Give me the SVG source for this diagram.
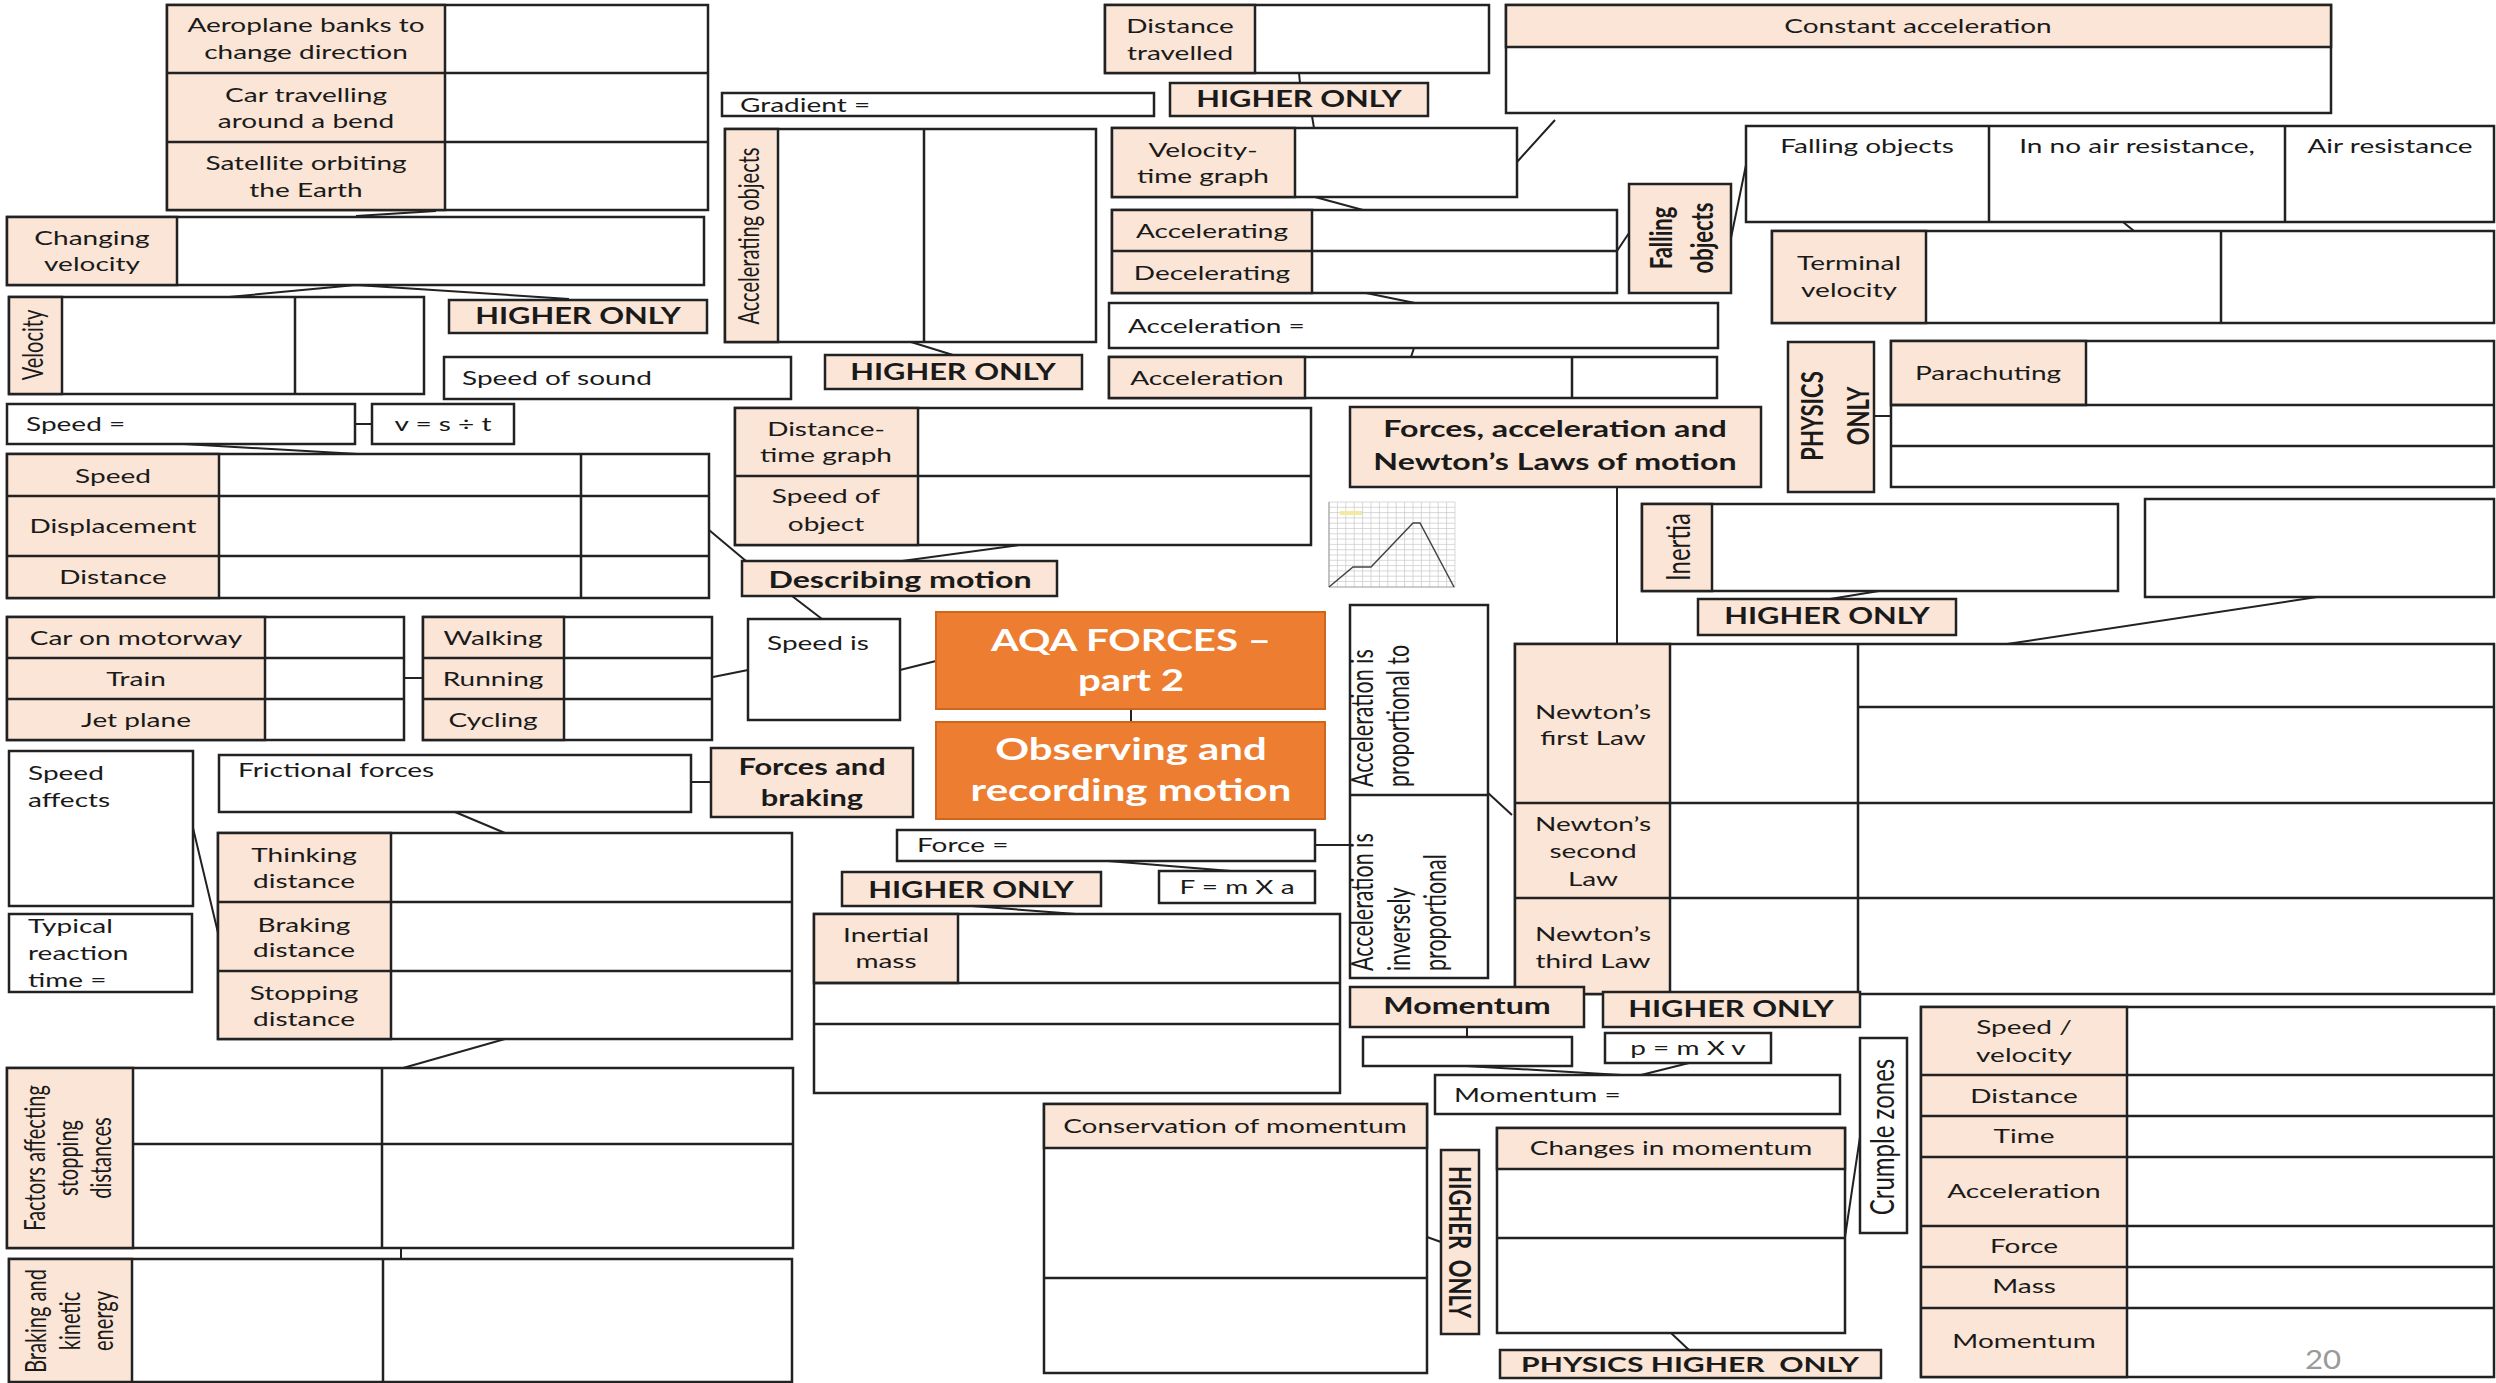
<svg xmlns="http://www.w3.org/2000/svg" width="2496" height="1383" viewBox="0 0 2496 1383">
<style>
.bx{fill:#fff;stroke:#222;stroke-width:2.5}
.pc{fill:#FBE5D6;stroke:#222;stroke-width:2.5}
.ln{stroke:#222;stroke-width:2.5;fill:none}
.cn{stroke:#222;stroke-width:2;fill:none}
.or{fill:#ED7D31;stroke:#D0651C;stroke-width:2}
text{font-family:Lato,"Open Sans","Liberation Sans",sans-serif;font-size:20px;fill:#1a1a1a}
.m{text-anchor:middle}
.b{font-weight:700;font-size:22px}
.w{fill:#fff;font-weight:700;font-size:30px}
.g{stroke:#c8c8c8;stroke-width:0.7;fill:none}
</style>
<g id="connectors">
<path class="cn" d="M436 211L356 216M356 285L218 298M356 285L569 299M355 424H372M184 444L358 454M709 530L746 561M404 678H423M713 677L748 670M900 670L936 661M792 596L822 619M902 561L1019 545M1131 709V722M691 782H711M455 812L505 833M193 828L219 937M505 1039L403 1068M401 1248V1259M911 342L953 355M1299 73L1300 83M1312 116L1314 128M1517 162L1555 120M1315 197L1363 210M1366 293L1415 303M1414 348L1411 357M1617 251L1629 233M1731 238L1746 165M2123 222L2134 231M1874 416H1891M1617 487V644M1879 591L1830 599M2317 597L2007 644M1487 792L1512 815M1315 845H1350M1108 861L1231 871M972 906L1076 914M1467 1027V1037M1466 1066L1638 1076M1689 1063L1637 1076M1427 1237L1441 1242M1845 1237L1860 1137M1671 1333L1689 1350"/>
</g>
<g id="aeroplane">
<rect class="bx" x="167" y="5" width="541" height="205"/>
<rect class="pc" x="167" y="5" width="278" height="205"/>
<path class="ln" d="M167 73H708M167 142H708"/>
<text class="m" transform="translate(306 32) scale(1.4 1)"><tspan x="0">Aeroplane banks to</tspan><tspan x="0" dy="27">change direction</tspan></text>
<text class="m" transform="translate(306 102) scale(1.4 1)"><tspan x="0">Car travelling</tspan><tspan x="0" dy="26">around a bend</tspan></text>
<text class="m" transform="translate(306 170) scale(1.4 1)"><tspan x="0">Satellite orbiting</tspan><tspan x="0" dy="27">the Earth</tspan></text>
</g>
<g id="changing-velocity">
<rect class="bx" x="7" y="217" width="697" height="68"/>
<rect class="pc" x="7" y="217" width="170" height="68"/>
<text class="m" transform="translate(92 245) scale(1.4 1)"><tspan x="0">Changing</tspan><tspan x="0" dy="26">velocity</tspan></text>
</g>
<g id="velocity">
<rect class="bx" x="9" y="297" width="415" height="97"/>
<rect class="pc" x="9" y="297" width="53" height="97"/>
<path class="ln" d="M295 297V394"/>
<text class="m" transform="translate(43 345) scale(1.4 1) rotate(-90)">Velocity</text>
</g>
<g id="higher1">
<rect class="pc" x="449" y="300" width="258" height="33"/>
<text class="m b" transform="translate(578 324) scale(1.4 1)">HIGHER ONLY</text>
</g>
<g id="speed-of-sound">
<rect class="bx" x="444" y="357" width="347" height="42"/>
<text transform="translate(462 385) scale(1.4 1)">Speed of sound</text>
</g>
<g id="speed-eq">
<rect class="bx" x="7" y="404" width="348" height="40"/>
<text transform="translate(26 431) scale(1.4 1)">Speed =</text>
</g>
<g id="vst">
<rect class="bx" x="372" y="404" width="142" height="40"/>
<text class="m" transform="translate(443 431) scale(1.4 1)">v = s ÷ t</text>
</g>
<g id="speed-table">
<rect class="bx" x="7" y="454" width="702" height="144"/>
<rect class="pc" x="7" y="454" width="212" height="144"/>
<path class="ln" d="M7 496H709M7 556H709M581 454V598"/>
<text class="m" transform="translate(113 483) scale(1.4 1)">Speed</text>
<text class="m" transform="translate(113 533) scale(1.4 1)">Displacement</text>
<text class="m" transform="translate(113 584) scale(1.4 1)">Distance</text>
</g>
<g id="car-table">
<rect class="bx" x="7" y="617" width="397" height="123"/>
<rect class="pc" x="7" y="617" width="258" height="123"/>
<path class="ln" d="M7 658H404M7 699H404"/>
<text class="m" transform="translate(136 645) scale(1.4 1)">Car on motorway</text>
<text class="m" transform="translate(136 686) scale(1.4 1)">Train</text>
<text class="m" transform="translate(136 727) scale(1.4 1)">Jet plane</text>
</g>
<g id="walking-table">
<rect class="bx" x="423" y="617" width="289" height="123"/>
<rect class="pc" x="423" y="617" width="141" height="123"/>
<path class="ln" d="M423 658H712M423 699H712"/>
<text class="m" transform="translate(493 645) scale(1.4 1)">Walking</text>
<text class="m" transform="translate(493 686) scale(1.4 1)">Running</text>
<text class="m" transform="translate(493 727) scale(1.4 1)">Cycling</text>
</g>
<g id="dt-table">
<rect class="bx" x="735" y="408" width="576" height="137"/>
<rect class="pc" x="735" y="408" width="183" height="137"/>
<path class="ln" d="M735 476H1311"/>
<text class="m" transform="translate(826 436) scale(1.4 1)"><tspan x="0">Distance-</tspan><tspan x="0" dy="26">time graph</tspan></text>
<text class="m" transform="translate(826 503) scale(1.4 1)"><tspan x="0">Speed of</tspan><tspan x="0" dy="28">object</tspan></text>
</g>
<g id="describing-motion">
<rect class="pc" x="742" y="561" width="315" height="35"/>
<text class="m b" style="font-size:23px" transform="translate(900 588) scale(1.4 1)">Describing motion</text>
</g>
<g id="speed-is">
<rect class="bx" x="748" y="619" width="152" height="101"/>
<text transform="translate(767 650) scale(1.4 1)">Speed is</text>
</g>
<g id="aqa">
<rect class="or" x="936" y="612" width="389" height="97"/>
<text class="m w" transform="translate(1131 651) scale(1.34 1)"><tspan x="0">AQA FORCES –</tspan><tspan x="0" dy="40">part 2</tspan></text>
</g>
<g id="observing">
<rect class="or" x="936" y="722" width="389" height="97"/>
<text class="m w" transform="translate(1131 760) scale(1.4 1)"><tspan x="0">Observing and</tspan><tspan x="0" dy="41">recording motion</tspan></text>
</g>
<g id="forces-braking">
<rect class="pc" x="711" y="748" width="202" height="69"/>
<text class="m b" transform="translate(812 775) scale(1.4 1)"><tspan x="0">Forces and</tspan><tspan x="0" dy="31">braking</tspan></text>
</g>
<g id="frictional">
<rect class="bx" x="219" y="755" width="472" height="57"/>
<text transform="translate(238 777) scale(1.4 1)">Frictional forces</text>
</g>
<g id="speed-affects">
<rect class="bx" x="9" y="751" width="184" height="155"/>
<text transform="translate(28 780) scale(1.4 1)"><tspan x="0">Speed</tspan><tspan x="0" dy="27">affects</tspan></text>
</g>
<g id="reaction">
<rect class="bx" x="9" y="914" width="183" height="78"/>
<text transform="translate(28 933) scale(1.4 1)"><tspan x="0">Typical</tspan><tspan x="0" dy="27">reaction</tspan><tspan x="0" dy="27">time =</tspan></text>
</g>
<g id="thinking-table">
<rect class="bx" x="218" y="833" width="574" height="206"/>
<rect class="pc" x="218" y="833" width="173" height="206"/>
<path class="ln" d="M218 902H792M218 971H792"/>
<text class="m" transform="translate(304 862) scale(1.4 1)"><tspan x="0">Thinking</tspan><tspan x="0" dy="26">distance</tspan></text>
<text class="m" transform="translate(304 932) scale(1.4 1)"><tspan x="0">Braking</tspan><tspan x="0" dy="25">distance</tspan></text>
<text class="m" transform="translate(304 1000) scale(1.4 1)"><tspan x="0">Stopping</tspan><tspan x="0" dy="26">distance</tspan></text>
</g>
<g id="factors">
<rect class="bx" x="7" y="1068" width="786" height="180"/>
<rect class="pc" x="7" y="1068" width="126" height="180"/>
<path class="ln" d="M382 1068V1248M133 1144H793"/>
<text class="m" transform="translate(45 1158) scale(1.4 1) rotate(-90)"><tspan x="0">Factors affecting</tspan><tspan x="0" dy="23.5">stopping</tspan><tspan x="0" dy="23.5">distances</tspan></text>
</g>
<g id="braking-ke">
<rect class="bx" x="9" y="1259" width="783" height="123"/>
<rect class="pc" x="9" y="1259" width="123" height="123"/>
<path class="ln" d="M383 1259V1382"/>
<text class="m" transform="translate(46 1321) scale(1.4 1) rotate(-90)"><tspan x="0">Braking and</tspan><tspan x="0" dy="24">kinetic</tspan><tspan x="0" dy="24">energy</tspan></text>
</g>
<g id="gradient">
<rect class="bx" x="722" y="93" width="432" height="23"/>
<text transform="translate(740 112) scale(1.4 1)">Gradient =</text>
</g>
<g id="accel-objects">
<rect class="bx" x="725" y="129" width="371" height="213"/>
<rect class="pc" x="725" y="129" width="53" height="213"/>
<path class="ln" d="M924 129V342"/>
<text class="m" transform="translate(759 236) scale(1.4 1) rotate(-90)">Accelerating objects</text>
</g>
<g id="higher2">
<rect class="pc" x="825" y="355" width="257" height="34"/>
<text class="m b" transform="translate(953 380) scale(1.4 1)">HIGHER ONLY</text>
</g>
<g id="distance-travelled">
<rect class="bx" x="1105" y="5" width="384" height="68"/>
<rect class="pc" x="1105" y="5" width="150" height="68"/>
<text class="m" transform="translate(1180 33) scale(1.4 1)"><tspan x="0">Distance</tspan><tspan x="0" dy="27">travelled</tspan></text>
</g>
<g id="higher3">
<rect class="pc" x="1170" y="83" width="258" height="33"/>
<text class="m b" transform="translate(1299 107) scale(1.4 1)">HIGHER ONLY</text>
</g>
<g id="vt-graph">
<rect class="bx" x="1112" y="128" width="405" height="69"/>
<rect class="pc" x="1112" y="128" width="183" height="69"/>
<text class="m" transform="translate(1203 157) scale(1.4 1)"><tspan x="0">Velocity-</tspan><tspan x="0" dy="26">time graph</tspan></text>
</g>
<g id="accelerating">
<rect class="bx" x="1112" y="210" width="505" height="83"/>
<rect class="pc" x="1112" y="210" width="200" height="83"/>
<path class="ln" d="M1112 251H1617"/>
<text class="m" transform="translate(1212 238) scale(1.4 1)">Accelerating</text>
<text class="m" transform="translate(1212 280) scale(1.4 1)">Decelerating</text>
</g>
<g id="acceleration-eq">
<rect class="bx" x="1109" y="303" width="609" height="45"/>
<text transform="translate(1128 333) scale(1.4 1)">Acceleration =</text>
</g>
<g id="acceleration-table">
<rect class="bx" x="1109" y="357" width="608" height="41"/>
<rect class="pc" x="1109" y="357" width="196" height="41"/>
<path class="ln" d="M1572 357V398"/>
<text class="m" transform="translate(1207 385) scale(1.4 1)">Acceleration</text>
</g>
<g id="constant-acceleration">
<rect class="bx" x="1506" y="5" width="825" height="108"/>
<rect class="pc" x="1506" y="5" width="825" height="42"/>
<text class="m" transform="translate(1918 33) scale(1.4 1)">Constant acceleration</text>
</g>
<g id="falling-objects">
<rect class="pc" x="1629" y="184" width="102" height="109"/>
<text class="m b" transform="translate(1672 238) scale(1.4 1) rotate(-90)"><tspan x="0">Falling</tspan><tspan x="0" dy="29">objects</tspan></text>
</g>
<g id="falling-table">
<rect class="bx" x="1746" y="126" width="748" height="96"/>
<path class="ln" d="M1989 126V222M2285 126V222"/>
<text class="m" transform="translate(1867 153) scale(1.4 1)">Falling objects</text>
<text class="m" transform="translate(2137 153) scale(1.4 1)">In no air resistance,</text>
<text class="m" transform="translate(2390 153) scale(1.4 1)">Air resistance</text>
</g>
<g id="terminal">
<rect class="bx" x="1772" y="231" width="722" height="92"/>
<rect class="pc" x="1772" y="231" width="154" height="92"/>
<path class="ln" d="M2221 231V323"/>
<text class="m" transform="translate(1849 270) scale(1.4 1)"><tspan x="0">Terminal</tspan><tspan x="0" dy="27">velocity</tspan></text>
</g>
<g id="forces-newton">
<rect class="pc" x="1350" y="407" width="411" height="80"/>
<text class="m b" style="font-size:23px" transform="translate(1555 437) scale(1.4 1)"><tspan x="0">Forces, acceleration and</tspan><tspan x="0" dy="33">Newton’s Laws of motion</tspan></text>
</g>
<g id="physics-only">
<rect class="pc" x="1788" y="342" width="86" height="150"/>
<text class="m b" transform="translate(1823 416) scale(1.4 1) rotate(-90)"><tspan x="0">PHYSICS</tspan><tspan x="0" dy="33">ONLY</tspan></text>
</g>
<g id="parachuting">
<rect class="bx" x="1891" y="341" width="603" height="146"/>
<rect class="pc" x="1891" y="341" width="195" height="64"/>
<path class="ln" d="M1891 405H2494M1891 446H2494"/>
<text class="m" transform="translate(1988 380) scale(1.4 1)">Parachuting</text>
</g>
<g id="graph">
<rect x="1323" y="498" width="137" height="95" fill="#fff"/>
<path class="g" d="M1329 502V587M1337.4 502V587M1345.8 502V587M1354.2 502V587M1362.6 502V587M1371 502V587M1379.4 502V587M1387.8 502V587M1396.2 502V587M1404.6 502V587M1413 502V587M1421.4 502V587M1429.8 502V587M1438.2 502V587M1446.6 502V587M1455 502V587M1329 502H1455M1329 507.3H1455M1329 512.6H1455M1329 517.9H1455M1329 523.2H1455M1329 528.5H1455M1329 533.8H1455M1329 539.1H1455M1329 544.4H1455M1329 549.7H1455M1329 555H1455M1329 560.3H1455M1329 565.6H1455M1329 570.9H1455M1329 576.2H1455M1329 581.5H1455"/>
<path d="M1329 502V587H1455" stroke="#999" stroke-width="1" fill="none"/>
<rect x="1340" y="511" width="22" height="4" fill="#f2eaa0"/>
<polyline points="1329,587 1353,567 1371,567 1413,523 1420,523 1454,587" fill="none" stroke="#444" stroke-width="1.5"/>
</g>
<g id="inertia">
<rect class="bx" x="1642" y="504" width="476" height="87"/>
<rect class="pc" x="1642" y="504" width="70" height="87"/>
<text class="m" style="font-size:24px" transform="translate(1690 547) scale(1.4 1) rotate(-90)">Inertia</text>
</g>
<g id="higher4">
<rect class="pc" x="1698" y="599" width="258" height="36"/>
<text class="m b" transform="translate(1827 624) scale(1.4 1)">HIGHER ONLY</text>
</g>
<g id="inertia-right">
<rect class="bx" x="2145" y="499" width="349" height="98"/>
</g>
<g id="newton-table">
<rect class="bx" x="1515" y="644" width="979" height="350"/>
<rect class="pc" x="1515" y="644" width="155" height="350"/>
<path class="ln" d="M1858 644V994M1515 803H2494M1515 898H2494M1858 707H2494"/>
<text class="m" transform="translate(1593 719) scale(1.4 1)"><tspan x="0">Newton’s</tspan><tspan x="0" dy="26">first Law</tspan></text>
<text class="m" transform="translate(1593 831) scale(1.4 1)"><tspan x="0">Newton’s</tspan><tspan x="0" dy="27">second</tspan><tspan x="0" dy="28">Law</tspan></text>
<text class="m" transform="translate(1593 941) scale(1.4 1)"><tspan x="0">Newton’s</tspan><tspan x="0" dy="27">third Law</tspan></text>
</g>
<g id="accel-proportional">
<rect class="bx" x="1350" y="605" width="138" height="373"/>
<path class="ln" d="M1350 795H1488"/>
<text style="font-size:21.5px" transform="translate(1373 787) scale(1.4 1) rotate(-90)"><tspan x="0">Acceleration is</tspan><tspan x="0" dy="26">proportional to</tspan></text>
<text style="font-size:21.5px" transform="translate(1373 971) scale(1.4 1) rotate(-90)"><tspan x="0">Acceleration is</tspan><tspan x="0" dy="26.5">inversely</tspan><tspan x="0" dy="26">proportional</tspan></text>
</g>
<g id="force-eq">
<rect class="bx" x="897" y="830" width="418" height="31"/>
<text transform="translate(917 852) scale(1.4 1)">Force =</text>
</g>
<g id="fma">
<rect class="bx" x="1159" y="871" width="156" height="32"/>
<text class="m" transform="translate(1237 894) scale(1.4 1)">F = m X a</text>
</g>
<g id="higher5">
<rect class="pc" x="842" y="872" width="259" height="34"/>
<text class="m b" transform="translate(971 898) scale(1.4 1)">HIGHER ONLY</text>
</g>
<g id="inertial-mass">
<rect class="bx" x="814" y="914" width="526" height="179"/>
<rect class="pc" x="814" y="914" width="144" height="69"/>
<path class="ln" d="M814 983H1340M814 1024H1340"/>
<text class="m" transform="translate(886 942) scale(1.4 1)"><tspan x="0">Inertial</tspan><tspan x="0" dy="26">mass</tspan></text>
</g>
<g id="momentum">
<rect class="pc" x="1350" y="987" width="234" height="40"/>
<text class="m b" style="font-size:23px" transform="translate(1467 1014) scale(1.4 1)">Momentum</text>
</g>
<g id="higher6">
<rect class="pc" x="1603" y="992" width="257" height="35"/>
<text class="m b" transform="translate(1731 1017) scale(1.4 1)">HIGHER ONLY</text>
</g>
<g id="momentum-blank">
<rect class="bx" x="1363" y="1037" width="209" height="29"/>
</g>
<g id="pmv">
<rect class="bx" x="1605" y="1033" width="166" height="30"/>
<text class="m" transform="translate(1688 1055) scale(1.4 1)">p = m X v</text>
</g>
<g id="momentum-eq">
<rect class="bx" x="1435" y="1075" width="405" height="39"/>
<text transform="translate(1454 1102) scale(1.4 1)">Momentum =</text>
</g>
<g id="conservation">
<rect class="bx" x="1044" y="1104" width="383" height="269"/>
<rect class="pc" x="1044" y="1104" width="383" height="44"/>
<path class="ln" d="M1044 1278H1427"/>
<text class="m" transform="translate(1235 1133) scale(1.4 1)">Conservation of momentum</text>
</g>
<g id="higher-vertical">
<rect class="pc" x="1441" y="1150" width="38" height="184"/>
<text class="m b" style="white-space:pre" transform="translate(1449 1242) scale(1.4 1) rotate(90)">HIGHER  ONLY</text>
</g>
<g id="changes">
<rect class="bx" x="1497" y="1128" width="348" height="205"/>
<rect class="pc" x="1497" y="1128" width="348" height="41"/>
<path class="ln" d="M1497 1238H1845"/>
<text class="m" transform="translate(1671 1155) scale(1.4 1)">Changes in momentum</text>
</g>
<g id="physics-higher">
<rect class="pc" x="1500" y="1350" width="381" height="28"/>
<text class="m b" style="white-space:pre;font-size:21.5px" transform="translate(1690 1372) scale(1.4 1)">PHYSICS HIGHER  ONLY</text>
</g>
<g id="crumple">
<rect class="bx" x="1860" y="1038" width="47" height="195"/>
<text class="m" style="font-size:24px" transform="translate(1894 1137) scale(1.4 1) rotate(-90)">Crumple zones</text>
</g>
<g id="units-table">
<rect class="bx" x="1921" y="1007" width="573" height="370"/>
<rect class="pc" x="1921" y="1007" width="206" height="370"/>
<path class="ln" d="M1921 1075H2494M1921 1116H2494M1921 1157H2494M1921 1226H2494M1921 1267H2494M1921 1308H2494"/>
<text class="m" transform="translate(2024 1034) scale(1.4 1)"><tspan x="0">Speed /</tspan><tspan x="0" dy="28">velocity</tspan></text>
<text class="m" transform="translate(2024 1103) scale(1.4 1)">Distance</text>
<text class="m" transform="translate(2024 1143) scale(1.4 1)">Time</text>
<text class="m" transform="translate(2024 1198) scale(1.4 1)">Acceleration</text>
<text class="m" transform="translate(2024 1253) scale(1.4 1)">Force</text>
<text class="m" transform="translate(2024 1293) scale(1.4 1)">Mass</text>
<text class="m" transform="translate(2024 1348) scale(1.4 1)">Momentum</text>
</g>
<text class="m" style="fill:#9a9a9a;font-size:26px" transform="translate(2323 1369) scale(1.2 1)">20</text>
</svg>
